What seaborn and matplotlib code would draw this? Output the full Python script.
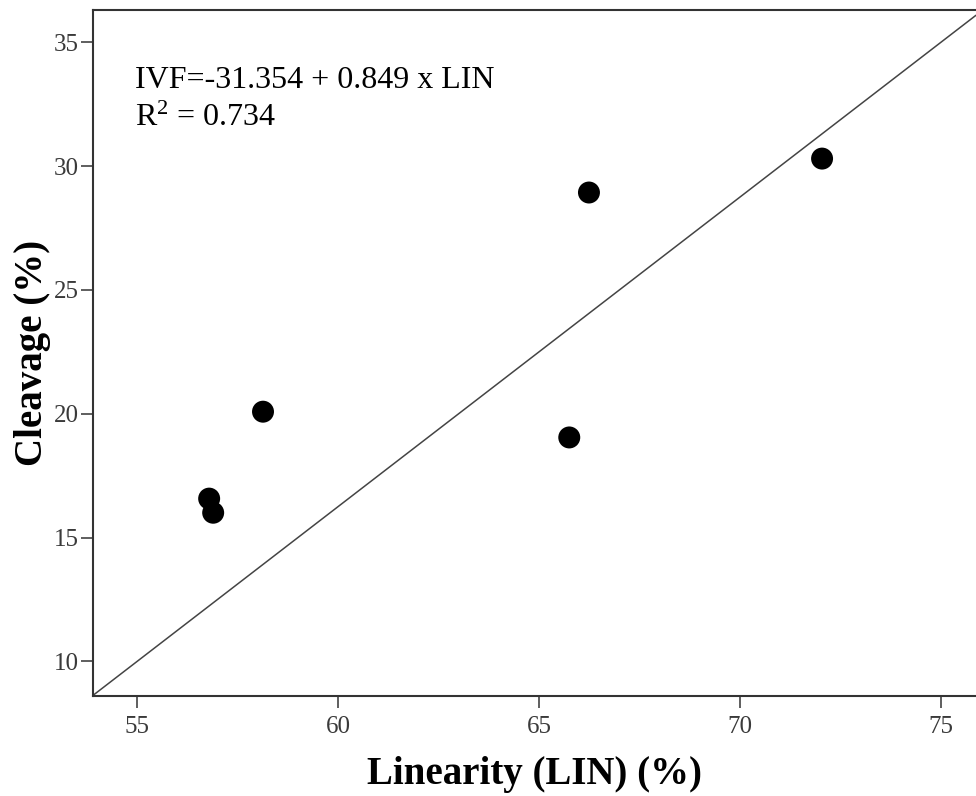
import pandas as pd
import matplotlib
matplotlib.use("Agg")
import matplotlib.pyplot as plt
import seaborn as sns

# Valores
linearity = [58.13, 56.79, 56.89, 65.75, 66.24, 72.04]
cleavage = [20.08, 16.57, 16.00, 19.04, 28.93, 30.30]

x_ticks = [55, 60, 65, 70, 75]
y_ticks = [10, 15, 20, 25, 30, 35]
x_limits = (53.9, 75.87)
y_limits = (8.6, 36.3)

# linha de referencia desenhada no grafico (ponto e inclinacao)
ref_point = (55.0, 10.0)
ref_slope = 1.25

equation_text = "IVF=-31.354 + 0.849 x LIN"
r2_text = r"R$^{2}$ = 0.734"

df = pd.DataFrame({"LIN": linearity, "Cleavage": cleavage})

sns.set_theme(style="ticks")
plt.rcParams["font.family"] = ["Liberation Serif", "DejaVu Serif"]
plt.rcParams["mathtext.fontset"] = "custom"
plt.rcParams["mathtext.rm"] = "Liberation Serif"
plt.rcParams["mathtext.it"] = "Liberation Serif:italic"
plt.rcParams["mathtext.bf"] = "Liberation Serif:bold"
plt.rcParams["text.color"] = "black"
plt.rcParams["axes.labelcolor"] = "black"

fig = plt.figure(figsize=(9.76, 7.96), dpi=100)
ax = fig.add_axes([93 / 976, 100 / 796, 1 - 93 / 976, 686 / 796])

sns.scatterplot(data=df, x="LIN", y="Cleavage", ax=ax, s=250,
                color="black", edgecolor="none", zorder=3)

ax.axline(ref_point, slope=ref_slope, color="#444444", linewidth=1.1, zorder=2)

ax.set_xlim(*x_limits)
ax.set_ylim(*y_limits)
ax.set_xticks(x_ticks)
ax.set_yticks(y_ticks)

for side in ["left", "bottom", "top"]:
    ax.spines[side].set_linewidth(1.5)
    ax.spines[side].set_color("#333333")
ax.spines["right"].set_visible(False)

ax.tick_params(axis="both", direction="out", length=8.5, width=1.1,
               color="#333333", labelcolor="#3a3a3a", labelsize=18)
ax.tick_params(axis="x", pad=6)
ax.tick_params(axis="y", pad=2)

ax.set_xlabel("Linearity (LIN) (%)", fontsize=28, fontweight="bold", labelpad=13)
ax.set_ylabel("Cleavage (%)", fontsize=28, fontweight="bold", labelpad=2)

ax.text(0.0476, 0.886, equation_text, transform=ax.transAxes,
        fontsize=23, va="baseline", ha="left")
ax.text(0.0476, 0.831, r2_text, transform=ax.transAxes,
        fontsize=23, va="baseline", ha="left")

fig.savefig("out.png", dpi=100)
plt.close(fig)
